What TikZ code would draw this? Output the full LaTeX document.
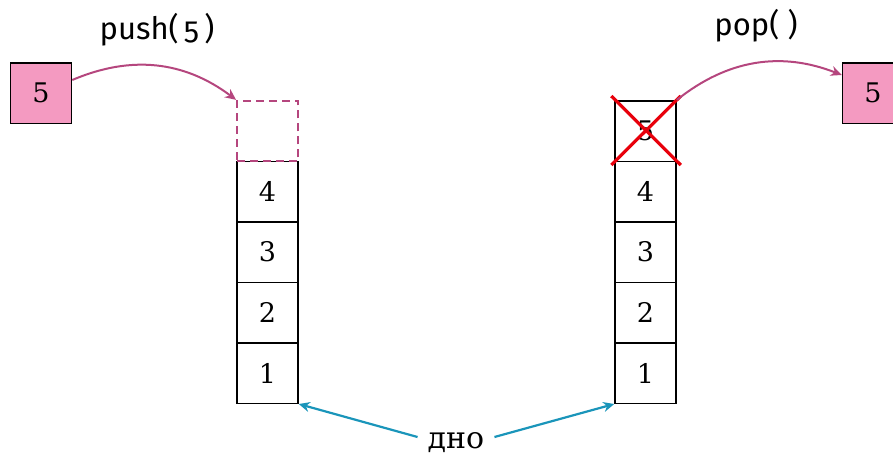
\documentclass[tikz,border=0pt]{standalone}
\usepackage{fontspec}
\newfontfamily\labelfont[Numbers=OldStyle]{Fira Sans}
\newfontfamily\cyrfont{DejaVu Serif}
\usetikzlibrary{arrows.meta}
\definecolor{pinkfill}{HTML}{F49AC1}
\definecolor{plum}{HTML}{B5467E}
\definecolor{teal}{HTML}{1A95BA}
\definecolor{crossred}{HTML}{E8000B}
\tikzset{
  cell/.style={draw=black, line width=1.5pt, minimum width=61pt, minimum height=60.5pt,
    inner sep=0pt, font=\cyrfont\fontsize{27}{29}\selectfont},
  ghost/.style={draw=plum, dash pattern=on 8pt off 5pt, line width=1.8pt,
    minimum width=61pt, minimum height=60.5pt, inner sep=0pt},
  token/.style={cell, fill=pinkfill},
  oplabel/.style={font=\labelfont\fontsize{31}{33}\selectfont},
  moveto/.style={draw=plum, line width=2pt, -{Stealth[length=11pt,width=10pt]}},
  pointer/.style={draw=teal, line width=2.2pt, -{Stealth[length=11pt,width=10pt]}},
}
\begin{document}
\begin{tikzpicture}[x=1pt,y=-1pt]
\useasboundingbox (0,0) rectangle (893,458);

% left stack: push
\node[cell] (l1) at (267.5,373) {1};
\node[cell] (l2) at (267.5,312.5) {2};
\node[cell] (l3) at (267.5,252) {3};
\node[cell] (l4) at (267.5,191.5) {4};
\node[ghost] (l5) at (267.5,131) {};
\node[token] (in) at (41,93) {5};
\node[oplabel] (push) at (157,30) {push(\,5\,)};
\draw[moveto] (in.east |- 0,80) to[bend left=30] (l5.north west);

% right stack: pop
\node[cell] (r1) at (645.5,373) {1};
\node[cell] (r2) at (645.5,312.5) {2};
\node[cell] (r3) at (645.5,252) {3};
\node[cell] (r4) at (645.5,191.5) {4};
\node[cell] (r5) at (645.5,131) {5};
\draw[crossred, line width=3.2pt] ([shift={(-3,-4)}]r5.north west) -- ([shift={(4,3)}]r5.south east);
\draw[crossred, line width=3.2pt] ([shift={(4,-4)}]r5.north east) -- ([shift={(-3,3)}]r5.south west);
\node[token] (out) at (873,93) {5};
\node[oplabel] (pop) at (756,26) {pop(\ )};
\draw[moveto] (r5.north east) to[bend left=30] (out.west |- 0,75);

% bottom marker
\node[font=\cyrfont\fontsize{30}{32}\selectfont, inner xsep=10pt, inner ysep=3pt] (bottom) at (456,443) {дно};
\draw[pointer] ([yshift=6]bottom.west) -- (l1.south east);
\draw[pointer] ([yshift=6]bottom.east) -- (r1.south west);
\end{tikzpicture}
\end{document}
